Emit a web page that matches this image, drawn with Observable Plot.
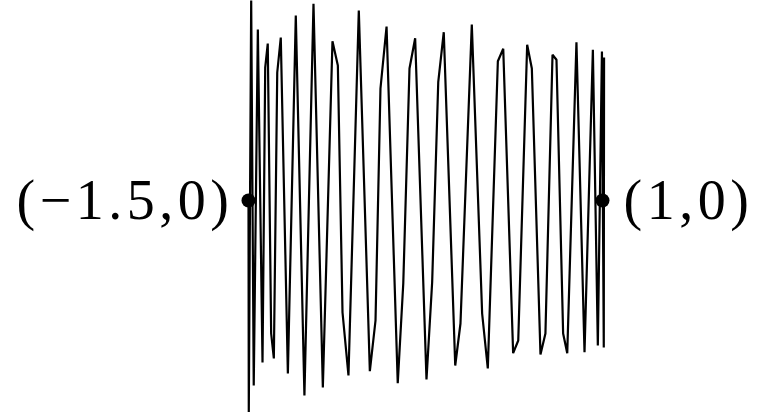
<!DOCTYPE html>
<html>
<head>
<meta charset="utf-8">
<script src="https://cdn.jsdelivr.net/npm/d3@7"></script>
<script src="https://cdn.jsdelivr.net/npm/@observablehq/plot@0.6"></script>
<style>
  html, body { margin: 0; padding: 0; background: #fff; }
  #chart svg { display: block; }
  #chart svg text { font-family: "Liberation Serif", "Times New Roman", serif; }
</style>
</head>
<body>
<div id="chart"></div>
<script>
// Path vertices (data units)
const pathX = [-1.5, -1.498, -1.481, -1.463, -1.434, -1.401, -1.382, -1.364, -1.340, -1.321,
  -1.297, -1.272, -1.222, -1.166, -1.105, -1.041, -0.975, -0.907, -0.869, -0.836,
  -0.794, -0.721, -0.643, -0.603, -0.568, -0.525, -0.446, -0.407, -0.363, -0.323,
  -0.243, -0.203, -0.160, -0.121, -0.040, -0.003, 0.077, 0.150, 0.190, 0.261,
  0.299, 0.369, 0.405, 0.468, 0.501, 0.562, 0.597, 0.647, 0.675, 0.722,
  0.751, 0.816, 0.873, 0.932, 0.967, 0.996, 1.009, 1.011, 1.0];
const pathY = [0, -2.12, 2.00, -1.85, 1.71, -1.62, 1.33, 1.57, -1.33, -1.58,
  1.28, 1.63, -1.73, 1.85, -1.95, 1.967, -1.87, 1.593, 1.35, -1.12,
  -1.75, 1.90, -1.707, -1.20, 1.12, 1.74, -1.827, -0.83, 1.32, 1.623,
  -1.79, -0.817, 1.183, 1.683, -1.65, -1.23, 1.76, -1.13, -1.68, 1.393,
  1.517, -1.527, -1.40, 1.557, 1.32, -1.54, -1.33, 1.457, 1.407, -1.33,
  -1.527, 1.583, -1.517, 1.507, -1.45, 1.49, -1.47, 1.43, 0];

// Labelled endpoints
const pointX = [-1.5, 1];
const pointY = [0, 0];
const pointLabels = ["(\u22121.5,0)", "(1,0)"];
const labelSide = ["left", "right"];

const path = pathX.map((x, i) => ({x, y: pathY[i]}));
const pts = pointX.map((x, i) => ({x, y: pointY[i], label: pointLabels[i], side: labelSide[i]}));

const chart = Plot.plot({
  width: 758,
  height: 412,
  margin: 0,
  x: {domain: [-3.2514, 2.1017], axis: null},
  y: {domain: [-2.12, 2.0], axis: null},
  style: {background: "#fff"},
  marks: [
    Plot.line(path, {x: "x", y: "y", stroke: "#000", strokeWidth: 2.2, strokeLinejoin: "miter", curve: "linear"}),
    Plot.dot(pts, {x: "x", y: "y", r: 7, fill: "#000", stroke: "none"}),
    Plot.text(pts.filter(d => d.side === "left"), {
      x: "x", y: "y", text: "label", textAnchor: "end", dx: -15, dy: 1,
      fontSize: 56, fill: "#000", lineAnchor: "middle"
    }),
    Plot.text(pts.filter(d => d.side === "right"), {
      x: "x", y: "y", text: "label", textAnchor: "start", dx: 21, dy: 1,
      fontSize: 56, fill: "#000", lineAnchor: "middle"
    })
  ]
});
chart.querySelectorAll("text").forEach(t => t.setAttribute("letter-spacing", "4.5"));
document.getElementById("chart").appendChild(chart);
</script>
</body>
</html>
